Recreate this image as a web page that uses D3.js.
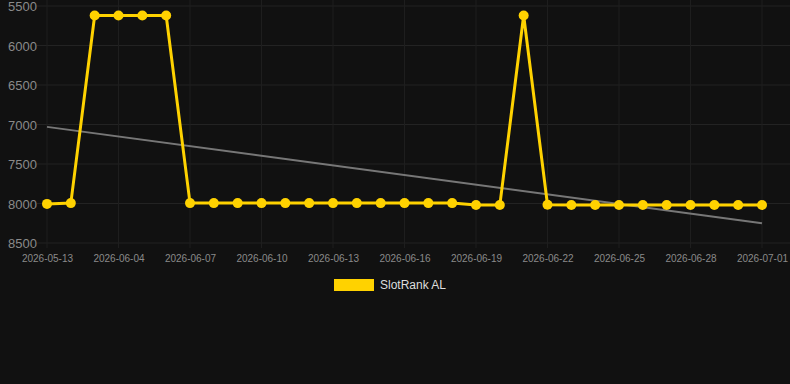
<!DOCTYPE html>
<html>
<head>
<meta charset="utf-8">
<script src="https://cdn.jsdelivr.net/npm/d3@7"></script>
<style>
  html, body { margin: 0; padding: 0; background: #111111; }
  svg { display: block; font-family: "Liberation Sans", Arial, sans-serif; }
</style>
</head>
<body>
<svg id="chart" width="790" height="384"></svg>
<script>
// dates on the category axis
const dates = ["2026-05-13","2026-06-02","2026-06-03","2026-06-04","2026-06-05","2026-06-06",
  "2026-06-07","2026-06-08","2026-06-09","2026-06-10","2026-06-11","2026-06-12","2026-06-13",
  "2026-06-14","2026-06-15","2026-06-16","2026-06-17","2026-06-18","2026-06-19","2026-06-20",
  "2026-06-21","2026-06-22","2026-06-23","2026-06-24","2026-06-25","2026-06-26","2026-06-27",
  "2026-06-28","2026-06-29","2026-06-30","2026-07-01"]
const rankAL = [8005,7995,5620,5620,5620,5620,
  7995,7995,7995,7995,7995,7995,7995,7995,7995,7995,7995,7995,
  8020,8020,5620,8015,8020,8020,8020,8020,8020,8020,8020,8020,8020]
const trendEnds = [7030,8250]
const yTicks = [5500,6000,6500,7000,7500,8000,8500]
const seriesName = "SlotRank AL"

const svg = d3.select("#chart")
const x = d3.scalePoint().domain(dates).range([47,762])
const y = d3.scaleLinear().domain([5500,8500]).range([6,243])
const tickDates = dates.filter((d,i) => i % 3 == 0)

// grid
const grid = svg.append("g")
grid.selectAll(".hg").data(yTicks).join("line").attr("class","hg")
  .attr("x1",37).attr("x2",790)
  .attr("y1",d => y(d)).attr("y2",d => y(d))
  .attr("stroke","#232323").attr("stroke-width",1)
grid.selectAll(".vg").data(tickDates).join("line").attr("class","vg")
  .attr("x1",d => x(d)).attr("x2",d => x(d))
  .attr("y1",0).attr("y2",248)
  .attr("stroke","#1e1e1e").attr("stroke-width",1)

// axes
const yAxis = svg.append("g").attr("transform","translate(37,0)")
  .call(d3.axisLeft(y).tickValues(yTicks).tickSize(0).tickPadding(0).tickFormat(d3.format("d")))
yAxis.select(".domain").remove()
yAxis.selectAll("text").attr("fill","#8a8a8a").attr("font-size",13).attr("dy","0.35em")

const xAxis = svg.append("g").attr("transform","translate(0,248)")
  .call(d3.axisBottom(x).tickValues(tickDates).tickSize(0).tickPadding(7))
xAxis.select(".domain").remove()
xAxis.selectAll("text").attr("fill","#8a8a8a").attr("font-size",10)

// trend line
svg.append("line")
  .attr("x1",x(dates[0])).attr("y1",y(trendEnds[0]))
  .attr("x2",x(dates[dates.length-1])).attr("y2",y(trendEnds[1]))
  .attr("stroke","#777").attr("stroke-width",2)

// series
const pts = dates.map((d,i) => ({date:d, v:rankAL[i]}))
const line = d3.line().x(d => x(d.date)).y(d => y(d.v))
svg.append("path").attr("d",line(pts))
  .attr("fill","none").attr("stroke","#ffd200").attr("stroke-width",3)
  .attr("stroke-linejoin","miter")
svg.selectAll(".pt").data(pts).join("circle").attr("class","pt")
  .attr("cx",d => x(d.date)).attr("cy",d => y(d.v))
  .attr("r",5).attr("fill","#ffd200")

// legend
svg.append("rect").attr("x",334).attr("y",279).attr("width",40).attr("height",12).attr("fill","#ffd200")
svg.append("text").attr("x",380).attr("y",289).attr("font-size",12).attr("fill","#dddddd").text(seriesName)
</script>
</body>
</html>
